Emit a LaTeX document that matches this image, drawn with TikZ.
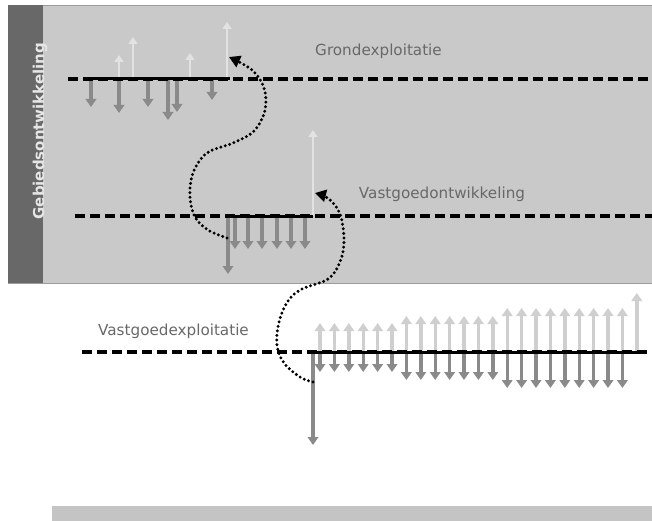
\documentclass[tikz,border=0pt]{standalone}
\usepackage{fontspec}
\setmainfont{DejaVu Sans}
\usetikzlibrary{arrows.meta}

\definecolor{panelgray}{HTML}{C9C9C9}
\definecolor{panelline}{HTML}{9C9C9C}
\definecolor{stripgray}{HTML}{686868}
\definecolor{bargray}{HTML}{C4C4C4}
\definecolor{outgray}{HTML}{8A8A8A}
\definecolor{ingraylight}{HTML}{E2E2E2}
\definecolor{ingray}{HTML}{CFCFCF}
\definecolor{labelgray}{HTML}{686868}
\definecolor{sidelabel}{HTML}{E6E6E6}

\tikzset{
  outflow/.style={draw=outgray, line width=3.4pt, -{Triangle[width=10.5pt,length=8pt]}},
  inflow/.style={draw=ingray, line width=3.4pt, -{Triangle[width=10.5pt,length=8pt]}},
  inflowlight/.style={draw=ingraylight, line width=2.8pt, -{Triangle[width=9pt,length=7pt]}},
  timeline/.style={draw=black, line width=3.4pt, dash pattern=on 9.5pt off 5.5pt},
  phasebar/.style={draw=black, line width=3pt},
  handover/.style={draw=black, line width=3.3pt, dash pattern=on 0pt off 4.6pt, line cap=round,
    -{Triangle[width=12pt,length=11pt]}},
  phaselabel/.style={text=labelgray, font=\fontsize{15.2}{18}\selectfont, inner sep=0pt}
}

\begin{document}
\begin{tikzpicture}[x=1pt,y=-1pt]
\useasboundingbox (0,0) rectangle (652,521);

% area development panel and its side strip
\fill[panelgray] (8,5) rectangle (652,283);
\draw[panelline, line width=0.8pt] (8,5) -- (652,5);
\draw[panelline, line width=0.8pt] (8,283) -- (652,283);
\fill[stripgray] (8,5) rectangle (43,283);
\node[rotate=90, text=sidelabel, font=\bfseries\fontsize{15}{18}\selectfont, inner sep=0pt]
  (area) at (40,131) {Gebiedsontwikkeling};

% bar along the bottom
\fill[bargray] (52,506) rectangle (652,521);

% phase labels
\node[phaselabel] (landlbl) at (378.5,51) {Grondexploitatie};
\node[phaselabel] (devlbl)  at (442,194) {Vastgoedontwikkeling};
\node[phaselabel] (oplbl)   at (173.5,331) {Vastgoedexploitatie};

% ---- land exploitation cash flows
\foreach \x/\t in {119/55, 133/37, 190/53, 227/22}
  \draw[inflowlight] (\x,79) -- (\x,\t);
\foreach \x/\t in {91/107, 119/113, 148/107, 168/120, 177/112, 212/100}
  \draw[outflow] (\x,79) -- (\x,\t);

% ---- property development cash flows
\draw[inflowlight] (313,216) -- (313,130);
\draw[outflow] (228,216) -- (228,274);
\foreach \x in {235,248,262,277,291,305}
  \draw[outflow] (\x,216) -- (\x,249);

% ---- property exploitation cash flows
\foreach \i in {0,...,5}
  \draw[inflow] ({320+14.4*\i},352) -- ({320+14.4*\i},323);
\foreach \i in {6,...,12}
  \draw[inflow] ({320+14.4*\i},352) -- ({320+14.4*\i},316);
\foreach \i in {13,...,21}
  \draw[inflow] ({320+14.4*\i},352) -- ({320+14.4*\i},308);
\draw[inflow] (636.8,352) -- (636.8,293);
\foreach \i in {0,...,5}
  \draw[outflow] ({320+14.4*\i},352) -- ({320+14.4*\i},372);
\foreach \i in {6,...,12}
  \draw[outflow] ({320+14.4*\i},352) -- ({320+14.4*\i},380);
\foreach \i in {13,...,21}
  \draw[outflow] ({320+14.4*\i},352) -- ({320+14.4*\i},388);
\draw[outflow] (313,352) -- (313,445);

% ---- time lines with the active phase in solid
\draw[timeline] (68,79) -- (652,79);
\draw[phasebar] (87,79) -- (230,79);
\draw[timeline] (75,216) -- (652,216);
\draw[phasebar] (228,216) -- (313,216);
\draw[timeline] (82,352) -- (652,352);
\draw[phasebar] (313,352) -- (640,352);

% ---- hand-overs between phases
\coordinate (devstart) at (227,238);
\coordinate (landend)  at (229,57);
\coordinate (opstart)  at (313,382);
\coordinate (devend)   at (315,193);

\draw[handover] plot[smooth, tension=0.6] coordinates {
  (devstart) (208,230) (195,217) (190,197) (193,173) (207,153) (233,143)
  (254,131) (265,110) (264,88) (252,70) (landend)};
\draw[handover] plot[smooth, tension=0.6] coordinates {
  (opstart) (300,377) (284,363) (277,345) (279,322) (288,301) (302,289)
  (328,279) (340,262) (344,240) (340,214) (329,199) (devend)};
\end{tikzpicture}
\end{document}
